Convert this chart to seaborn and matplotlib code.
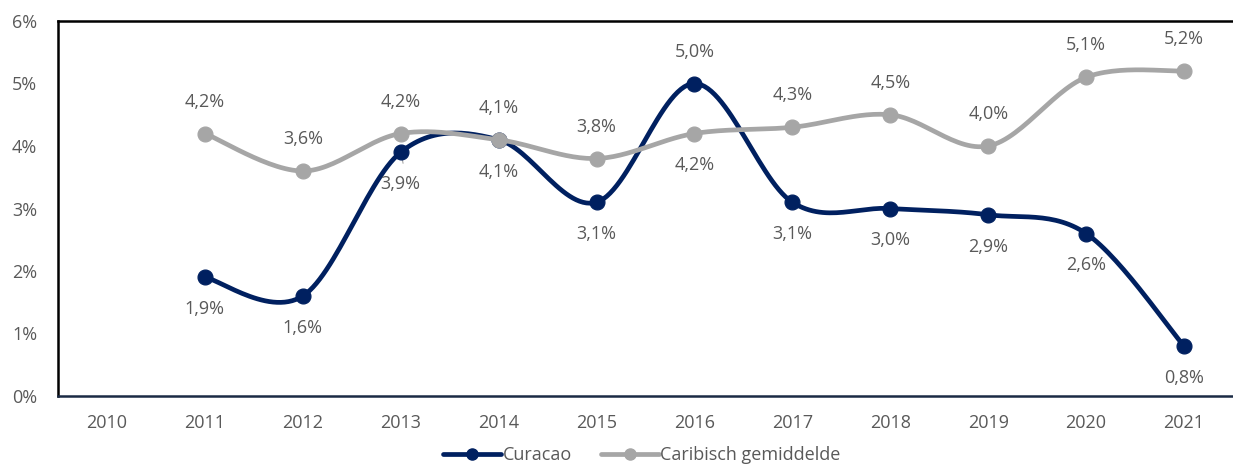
import numpy as np
import pandas as pd
import matplotlib
matplotlib.use("Agg")
import matplotlib.pyplot as plt
import seaborn as sns
from matplotlib.lines import Line2D

years = ["2010", "2011", "2012", "2013", "2014", "2015", "2016", "2017", "2018", "2019", "2020", "2021"]
curacao = [None, 1.9, 1.6, 3.9, 4.1, 3.1, 5.0, 3.1, 3.0, 2.9, 2.6, 0.8]
caribbean = [None, 4.2, 3.6, 4.2, 4.1, 3.8, 4.2, 4.3, 4.5, 4.0, 5.1, 5.2]
# label placement: +1 above, -1 below
curacao_pos = [0, -1, -1, -1, -1, -1, 1, -1, -1, -1, -1, -1]
caribbean_pos = [0, 1, 1, 1, 1, 1, -1, 1, 1, 1, 1, 1]
yticks = [0, 1, 2, 3, 4, 5, 6]

NAVY = "#002060"
GRAY = "#A6A6A6"
TXT = "#595959"
FS = 13

sns.set_theme(style="white")
plt.rcParams["font.family"] = ["Open Sans", "DejaVu Sans"]

fig = plt.figure(figsize=(12.33, 4.68), dpi=100)
ax = fig.add_axes([58 / 1233, 1 - 396 / 468, (1233 - 58) / 1233, (396 - 21) / 468])


def catmull(xs, ys, n=30):
    xs = np.asarray(xs, float)
    ys = np.asarray(ys, float)
    P = np.column_stack([xs, ys])
    P = np.vstack([P[0], P, P[-1]])
    out = []
    for i in range(1, len(P) - 2):
        p0, p1, p2, p3 = P[i - 1], P[i], P[i + 1], P[i + 2]
        t = np.linspace(0, 1, n)[:, None]
        c = 0.5 * ((2 * p1) + (-p0 + p2) * t + (2 * p0 - 5 * p1 + 4 * p2 - p3) * t ** 2
                   + (-p0 + 3 * p1 - 3 * p2 + p3) * t ** 3)
        out.append(c if i == len(P) - 3 else c[:-1])
    c = np.vstack(out)
    return c[:, 0], c[:, 1]


for vals, pos, color, z in [(curacao, curacao_pos, NAVY, 3), (caribbean, caribbean_pos, GRAY, 4)]:
    idx = [i for i, v in enumerate(vals) if v is not None]
    v = [vals[i] for i in idx]
    sx, sy = catmull(idx, v)
    smooth = pd.DataFrame({"x": sx, "y": sy})
    sns.lineplot(data=smooth, x="x", y="y", sort=False, ax=ax, color=color, lw=3.4, zorder=z)
    pts = pd.DataFrame({"x": idx, "y": v})
    sns.scatterplot(data=pts, x="x", y="y", ax=ax, color=color, s=115, edgecolor=color, zorder=z + 0.5)
    for i in idx:
        off = 23 if pos[i] > 0 else -23
        ax.annotate(f"{vals[i]:.1f}%".replace(".", ","), (i, vals[i]), xytext=(0, off),
                    textcoords="offset points", ha="center", va="center", fontsize=FS, color=TXT)

# leader line for the 2013 Curacao label
ax.annotate("", xy=(3, 3.9), xytext=(3.03, 3.68),
            arrowprops=dict(arrowstyle="-", color=GRAY, lw=0.8), zorder=2)

ax.set_xlim(-0.5, len(years) - 0.5)
ax.set_ylim(0, 6)
ax.set_xticks(range(len(years)))
ax.set_xticklabels(years)
ax.set_yticks(yticks)
ax.set_yticklabels([f"{t}%" for t in yticks])
ax.tick_params(axis="both", labelsize=FS, colors=TXT, length=0)
ax.tick_params(axis="x", pad=13)
ax.tick_params(axis="y", pad=15)
ax.set_xlabel("")
ax.set_ylabel("")
for s in ["top", "left"]:
    ax.spines[s].set_color("black")
    ax.spines[s].set_linewidth(1.8)
ax.spines["bottom"].set_color("#1a2a44")
ax.spines["bottom"].set_linewidth(1.8)
ax.spines["right"].set_visible(False)

handles = [Line2D([0], [0], color=NAVY, lw=3.4, marker="o", markersize=8),
           Line2D([0], [0], color=GRAY, lw=3.4, marker="o", markersize=8)]
fig.legend(handles, ["Curacao", "Caribisch gemiddelde"], loc="center", bbox_to_anchor=(642 / 1233, 1 - 455 / 468),
           ncol=2, frameon=False, fontsize=FS, labelcolor=TXT, handlelength=3.2, handletextpad=0.1,
           columnspacing=1.6, borderpad=0.2)

fig.savefig("out.png", dpi=100)
